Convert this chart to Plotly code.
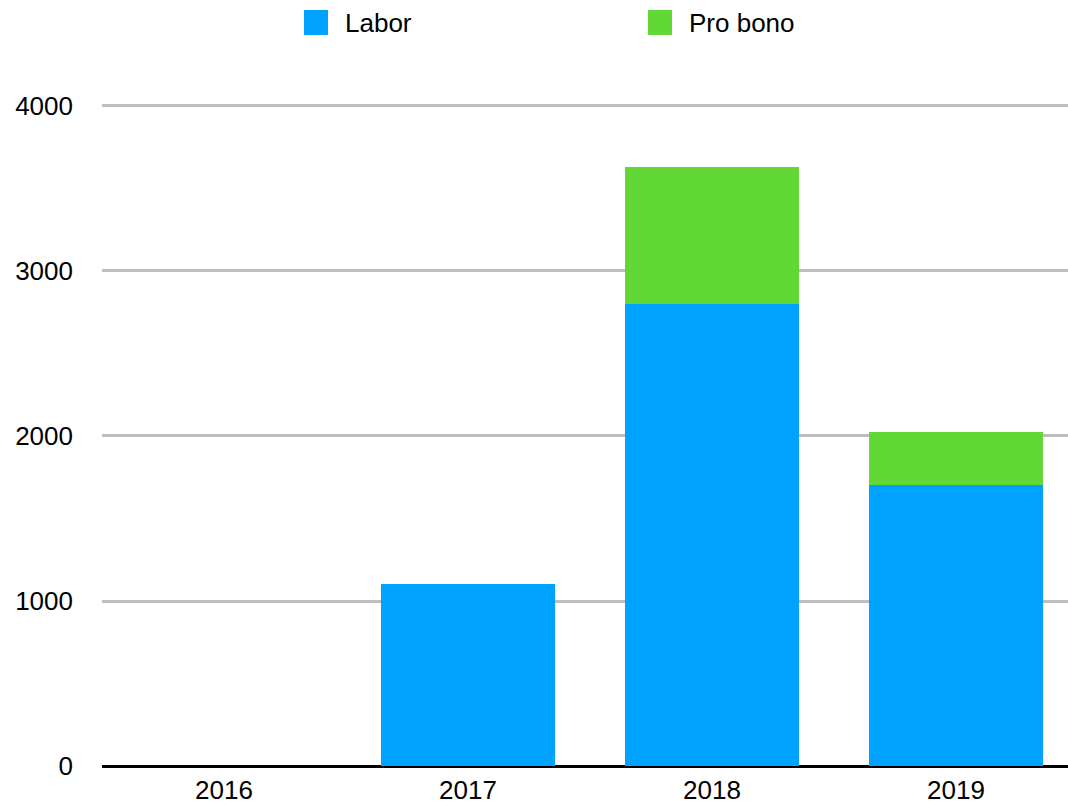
import plotly.graph_objects as go

years = ["2016", "2017", "2018", "2019"]
labor = [0, 1100, 2800, 1705]
pro_bono = [0, 0, 830, 320]
series_names = ["Labor", "Pro bono"]
colors = ["#00A2FF", "#61D836"]
y_ticks = [0, 1000, 2000, 3000, 4000]

FONT = "Liberation Sans, Arial, Helvetica, sans-serif"

W, H = 1068, 805
PL, PT, PW, PH = 102, 104, 966, 662   # plot area in page px

fig = go.Figure()
for name, vals, col in zip(series_names, [labor, pro_bono], colors):
    fig.add_trace(go.Bar(
        x=years, y=vals, name=name, marker=dict(color=col, line=dict(width=0)),
        width=0.713, showlegend=False,
    ))

def px_to_paper_x(px):
    return (px - PL) / PW

def px_to_paper_y(py):
    return (PT + PH - py) / PH

# manual legend (large square swatches like the reference)
legend_x = [304, 648]
for name, col, lx in zip(series_names, colors, legend_x):
    fig.add_shape(type="rect", xref="paper", yref="paper",
                  x0=px_to_paper_x(lx), x1=px_to_paper_x(lx + 24),
                  y0=px_to_paper_y(35), y1=px_to_paper_y(10),
                  fillcolor=col, line=dict(width=0), layer="above")
    fig.add_annotation(text=name, xref="paper", yref="paper",
                       x=px_to_paper_x(lx + 39), y=px_to_paper_y(23),
                       xanchor="left", yanchor="middle", showarrow=False,
                       font=dict(family=FONT, size=26, color="#000000"))

fig.update_layout(
    barmode="stack",
    width=W, height=H,
    margin=dict(l=PL, r=W - PL - PW, t=PT, b=H - PT - PH, autoexpand=False),
    paper_bgcolor="white", plot_bgcolor="white",
    font=dict(family=FONT, size=26, color="#000000"),
    bargap=0,
)
fig.update_xaxes(
    type="category", range=[-0.5, 3.459], showgrid=False, ticks="",
    showline=False, zeroline=False, tickfont=dict(size=26, color="#000000"),
    ticklabelstandoff=6, automargin=False,
)
fig.update_yaxes(
    range=[0, 4012], tickvals=y_ticks, ticktext=[str(v) for v in y_ticks],
    showgrid=True, gridcolor="#BDBDBD", gridwidth=2.5,
    zeroline=True, zerolinecolor="#000000", zerolinewidth=2.5,
    ticks="", ticklabelstandoff=28, showline=False,
    tickfont=dict(size=26, color="#000000"), automargin=False,
)

fig.write_html(
    "out.html",
    config={"displayModeBar": False},
    post_script="document.body.style.margin='0';document.body.style.overflow='hidden';",
)
